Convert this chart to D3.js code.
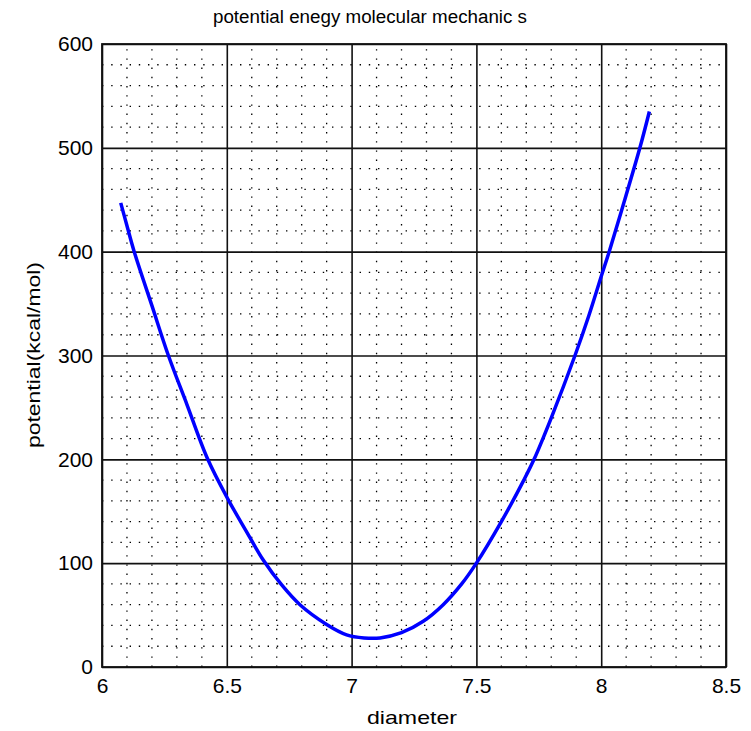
<!DOCTYPE html>
<html>
<head>
<meta charset="utf-8">
<script src="https://cdn.jsdelivr.net/npm/d3@7"></script>
<style>
  html, body { margin: 0; padding: 0; background: #fff; }
  svg { display: block; }
  text { font-family: "Liberation Sans", Arial, sans-serif; fill: #000; }
</style>
</head>
<body>
<svg id="chart" width="751" height="731"></svg>
<script>
// ---- data ----
const diameter = [6.075, 6.100, 6.129, 6.200, 6.266, 6.340, 6.422, 6.506, 6.580, 6.646, 6.720, 6.793, 6.900, 6.980, 7.050, 7.114, 7.200, 7.287, 7.367, 7.441, 7.500, 7.600, 7.690, 7.731, 7.800, 7.895, 7.950, 8.000, 8.032, 8.082, 8.155, 8.193];
const potential = [447, 425, 400, 348, 300, 253, 201, 161, 130, 103, 79, 60, 41, 31, 28, 28, 33, 44, 60, 80, 100, 140, 180, 200, 240, 300, 338, 376, 400, 440, 500, 535];
const xTicks = [6, 6.5, 7, 7.5, 8, 8.5];
const yTicks = [0, 100, 200, 300, 400, 500, 600];
const xMinor = d3.range(60, 86).map(v => v / 10).filter(v => Math.round(v * 10) % 5 !== 0);
const yMinor = d3.range(0, 601, 20).filter(v => v % 100 !== 0);
const titleText = "potential enegy molecular mechanic s";
const xLabel = "diameter";
const yLabel = "potential(kcal/mol)";

// ---- layout ----
const L = 102, T = 44, R = 726, B = 667;
const svg = d3.select("#chart");
const x = d3.scaleLinear().domain([6, 8.5]).range([L, R]);
const y = d3.scaleLinear().domain([0, 600]).range([B, T]);

// minor dotted grid
const g = svg.append("g");
g.selectAll(".xm").data(xMinor).enter().append("line")
  .attr("x1", d => x(d)).attr("x2", d => x(d)).attr("y1", B).attr("y2", T)
  .attr("stroke", "#000").attr("stroke-width", 1.3).attr("stroke-dasharray", "1.4,7.8");
g.selectAll(".ym").data(yMinor).enter().append("line")
  .attr("y1", d => y(d)).attr("y2", d => y(d)).attr("x1", L).attr("x2", R)
  .attr("stroke", "#000").attr("stroke-width", 1.3).attr("stroke-dasharray", "1.4,7.8");

// major grid via axes
const xGrid = d3.axisBottom(x).tickValues(xTicks).tickSize(-(B - T)).tickFormat("");
const yGrid = d3.axisLeft(y).tickValues(yTicks).tickSize(-(R - L)).tickFormat("");
const xg = svg.append("g").attr("transform", `translate(0,${B})`).call(xGrid);
const yg = svg.append("g").attr("transform", `translate(${L},0)`).call(yGrid);
[xg, yg].forEach(a => {
  a.select(".domain").remove();
  a.selectAll("line").attr("stroke", "#111").attr("stroke-width", 1.6);
});

// frame
svg.append("rect").attr("x", L).attr("y", T).attr("width", R - L).attr("height", B - T)
  .attr("fill", "none").attr("stroke", "#111").attr("stroke-width", 1.8);

// tick labels
const xa = svg.append("g").attr("transform", `translate(0,${B})`)
  .call(d3.axisBottom(x).tickValues(xTicks).tickSize(0).tickPadding(11).tickFormat(d3.format("")));
xa.select(".domain").remove();
xa.selectAll("text").attr("font-size", 21).attr("font-family", "'Liberation Sans', Arial, sans-serif").attr("fill", "#000");

const ya = svg.append("g").attr("transform", `translate(${L},0)`)
  .call(d3.axisLeft(y).tickValues(yTicks).tickSize(0).tickPadding(9).tickFormat(d3.format("")));
ya.select(".domain").remove();
ya.selectAll("text").attr("font-size", 21).attr("font-family", "'Liberation Sans', Arial, sans-serif").attr("fill", "#000");

// curve
const line = d3.line().x((d, i) => x(diameter[i])).y((d, i) => y(potential[i])).curve(d3.curveCatmullRom.alpha(0.5));
svg.append("path").datum(potential).attr("d", line)
  .attr("fill", "none").attr("stroke", "#0000ff").attr("stroke-width", 3.5)
  .attr("stroke-linejoin", "round").attr("stroke-linecap", "butt");

// titles
svg.append("text").attr("x", 370).attr("y", 23).attr("text-anchor", "middle")
  .attr("font-size", 18).attr("textLength", 314).attr("lengthAdjust", "spacingAndGlyphs").text(titleText);
svg.append("text").attr("x", 412).attr("y", 724).attr("text-anchor", "middle")
  .attr("font-size", 19).attr("textLength", 90).attr("lengthAdjust", "spacingAndGlyphs").text(xLabel);
svg.append("text").attr("transform", `translate(40,355) rotate(-90)`).attr("text-anchor", "middle")
  .attr("font-size", 18).attr("textLength", 186).attr("lengthAdjust", "spacingAndGlyphs").text(yLabel);
</script>
</body>
</html>
